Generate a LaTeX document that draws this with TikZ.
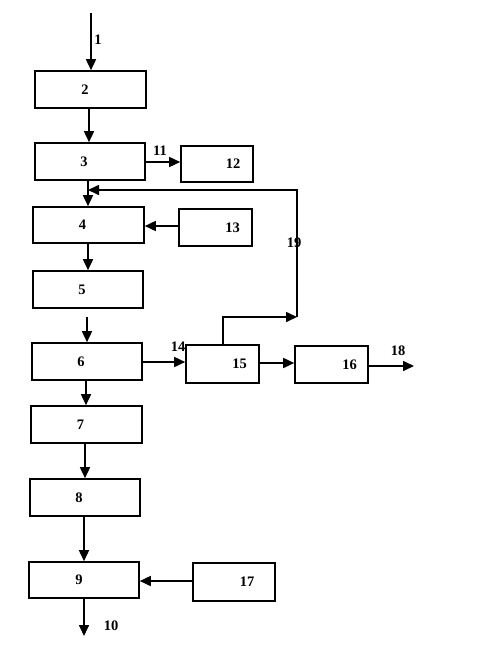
\documentclass[tikz,border=0pt]{standalone}
\usepackage{fontspec}
\setmainfont{Liberation Serif}
\usetikzlibrary{arrows.meta}
\begin{document}
\begin{tikzpicture}[x=1pt,y=-1pt,
  box/.style={draw,line width=1.6pt,rectangle,inner sep=0pt,font=\fontsize{14.5}{16}\selectfont\bfseries},
  lbl/.style={inner sep=0pt,font=\fontsize{14.5}{16}\selectfont\bfseries},
  arr/.style={line width=1.6pt,-{Triangle[length=11pt,width=10pt]}}]
\useasboundingbox (0,0) rectangle (485,654);
% boxes (text shifted with leading space)
\node[box,minimum width=111pt,minimum height=37pt] (b2) at (90.5,89.5) {\hspace*{-11pt}2};
\node[box,minimum width=110pt,minimum height=37pt] (b3) at (90,161.5) {\hspace*{-12pt}3};
\node[box,minimum width=72pt,minimum height=36pt] (b12) at (217,164) {\hspace*{32pt}12};
\node[box,minimum width=111pt,minimum height=36pt] (b4) at (88.5,225) {\hspace*{-12pt}4};
\node[box,minimum width=73pt,minimum height=37pt] (b13) at (215.5,227.5) {\hspace*{34pt}13};
\node[box,minimum width=110pt,minimum height=37pt] (b5) at (88,289.5) {\hspace*{-12pt}5};
\node[box,minimum width=110pt,minimum height=37pt] (b6) at (87,361.5) {\hspace*{-12pt}6};
\node[box,minimum width=73pt,minimum height=38pt] (b15) at (222.5,364) {\hspace*{34pt}15};
\node[box,minimum width=73pt,minimum height=37pt] (b16) at (331.5,364.5) {\hspace*{36pt}16};
\node[box,minimum width=111pt,minimum height=37pt] (b7) at (86.5,424.5) {\hspace*{-12pt}7};
\node[box,minimum width=110pt,minimum height=37pt] (b8) at (85,497.5) {\hspace*{-12pt}8};
\node[box,minimum width=110pt,minimum height=36pt] (b9) at (84,580) {\hspace*{-10pt}9};
\node[box,minimum width=82pt,minimum height=38pt] (b17) at (234,582) {\hspace*{26pt}17};
% free ends
\coordinate (in1) at (91,13);
\coordinate (in6) at (87,317);
\coordinate (out18) at (414,366);
\coordinate (out10) at (84,636);
\coordinate (r19b) at (297,317);
\coordinate (r19t) at (297,190);
\coordinate (l19) at (88,190);
% connectors
\draw[arr] (in1) -- (in1 |- b2.north);
\draw[arr] (b2.south -| 89,0) -- (b3.north -| 89,0);
\draw[arr] (b3.east |- 0,162) -- (b12.west |- 0,162);
\draw[arr] (b3.south -| 88,0) -- (b4.north -| 88,0);
\draw[arr] (b13.west |- 0,226) -- (b4.east |- 0,226);
\draw[arr] (b4.south -| 88,0) -- (b5.north -| 88,0);
\draw[arr] (in6) -- (in6 |- b6.north);
\draw[arr] (b6.east |- 0,362) -- (b15.west |- 0,362);
\draw[arr] (b15.east |- 0,363) -- (b16.west |- 0,363);
\draw[arr] (b16.east |- out18) -- (out18);
\draw[arr] (b15.north -| 223,0) |- (r19b);
\draw[arr] (r19b) -- (r19t) -- (l19);
\draw[arr] (b6.south -| 86,0) -- (b7.north -| 86,0);
\draw[arr] (b7.south -| 85,0) -- (b8.north -| 85,0);
\draw[arr] (b8.south -| 84,0) -- (b9.north -| 84,0);
\draw[arr] (b17.west |- 0,581) -- (b9.east |- 0,581);
\draw[arr] (b9.south -| 84,0) -- (out10);
% labels
\node[lbl] (t1) at (98,40) {1};
\node[lbl] (t11) at (160,151) {11};
\node[lbl] (t19) at (294,243) {19};
\node[lbl] (t14) at (178,347) {14};
\node[lbl] (t18) at (398,351) {18};
\node[lbl] (t10) at (111,626) {10};
\end{tikzpicture}
\end{document}
